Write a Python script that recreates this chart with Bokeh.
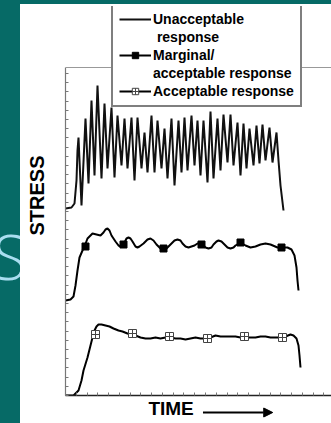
import numpy as np
from bokeh.plotting import figure
from bokeh.models import (Legend, LegendItem, Label, Arrow, NormalHead,
                          LinearAxis, FixedTicker, Div, Span)
from bokeh.layouts import row, column
from bokeh.embed import file_html
from bokeh.resources import INLINE

# ---- data (arbitrary chart units: time, stress) ----
unacc_t = [0, 6, 9, 11, 12, 13, 16, 20, 23, 26, 29, 32, 36, 39, 42, 46, 49, 52, 56, 59, 62,
           66, 69, 72, 76, 79, 82, 86, 89, 92, 96, 99, 102, 106, 109, 113, 116, 119, 122,
           126, 129, 132, 135, 138, 142, 145, 148, 152, 155, 158, 162, 165, 168, 172, 175,
           178, 181, 184, 188, 191, 194, 197, 200, 204, 207, 211, 213, 215, 218]
unacc_s = [187, 188, 192, 215, 245, 258, 190, 277, 212, 295, 220, 310, 217, 292, 227, 288, 218,
           280, 230, 277, 227, 278, 215, 278, 227, 263, 223, 280, 223, 275, 227, 267, 217, 277,
           210, 275, 223, 278, 225, 280, 230, 275, 220, 275, 213, 284, 217, 277, 225, 281, 233,
           281, 230, 273, 220, 272, 227, 267, 230, 270, 232, 271, 235, 268, 233, 263, 235, 210, 185]

marg_t = [0, 5, 8, 10, 12, 14, 17, 19, 22, 27, 31, 35, 38, 40, 42, 44, 46, 50, 53, 55, 57, 59,
          61, 63, 65, 67, 70, 72, 74, 78, 82, 85, 88, 91, 95, 98, 101, 105, 109, 112, 115, 117,
          120, 123, 126, 129, 132, 135, 138, 140, 143, 146, 148, 151, 153, 156, 159, 162, 165,
          168, 170, 175, 180, 185, 190, 195, 200, 205, 212, 217, 222, 226, 229, 231, 232, 233]
marg_s = [95, 96, 99, 110, 125, 138, 145, 149, 157, 162, 161, 160, 163, 166, 167, 165, 160, 154,
          150, 149, 150, 153, 157, 158, 157, 154, 149, 148, 149, 152, 156, 157, 155, 151, 147,
          146, 147, 151, 155, 156, 155, 152, 149, 148, 149, 150, 152, 152, 150, 148, 147, 148,
          151, 154, 155, 154, 151, 148, 147, 148, 150, 153, 150, 148, 149, 151, 152, 151, 148,
          148, 148, 146, 140, 128, 115, 105]
marg_mark_t = [20, 58, 98, 136, 175, 216]
marg_mark_s = [149, 151, 147, 151, 153, 148]

acc_t = [0, 8, 10, 13, 16, 18, 22, 25, 27, 29, 31, 33, 36, 40, 44, 48, 53, 57, 62, 66, 70, 75,
         80, 85, 90, 95, 100, 105, 110, 115, 120, 125, 130, 135, 140, 145, 150, 155, 160, 165,
         170, 175, 180, 185, 190, 195, 200, 205, 210, 215, 220, 225, 228, 231, 233, 234, 235]
acc_s = [0, 0, 2, 5, 15, 25, 38, 50, 58, 65, 69, 71, 71, 70, 69, 67, 65, 64, 62, 61, 60, 58, 57,
         57, 58, 57, 58, 58, 57, 57, 56, 57, 58, 57, 57, 58, 60, 59, 59, 59, 59, 58, 58, 58, 58,
         59, 59, 58, 58, 58, 59, 61, 60, 57, 50, 40, 28]
acc_mark_t = [30, 67, 104, 142, 179, 217]
acc_mark_s = [61, 62, 59, 57, 59, 58]

# legend text, one entry per printed line
legend_lines = ["Unacceptable", " response", "Marginal/", "acceptable response",
                "Acceptable response"]
y_title = "STRESS"
x_title = "TIME"

Y_MAX = 328      # top of the axes box (stress units)
X_MAX = 266

TEAL = "#066a66"
FONT = "Liberation Sans"


def bare_fig(w, h, xr, yr):
    f = figure(width=w, height=h, x_range=xr, y_range=yr, output_backend="svg",
               toolbar_location=None, x_axis_location=None, y_axis_location=None,
               min_border=0)
    f.outline_line_color = None
    f.xgrid.visible = False
    f.ygrid.visible = False
    f.background_fill_color = "white"
    f.border_fill_color = "white"
    return f


# ---- main chart (frame reaches up to the legend's top edge) ----
p = figure(width=267, height=393, x_range=(0, X_MAX), y_range=(0, 389),
           output_backend="svg", toolbar_location=None,
           x_axis_location=None, y_axis_location=None,
           min_border_left=1, min_border_right=0, min_border_top=2, min_border_bottom=2)
p.outline_line_color = None
p.xgrid.visible = False
p.ygrid.visible = False
p.background_fill_color = "white"
p.border_fill_color = "white"

xt = FixedTicker(ticks=[], minor_ticks=list(np.arange(0, X_MAX, 10.77)))
yt = FixedTicker(ticks=[], minor_ticks=list(np.arange(0, Y_MAX, 9.2)))


def mk_axis(ticker, color, width, bounds):
    ax = LinearAxis(ticker=ticker, bounds=bounds)
    ax.axis_line_color = color
    ax.axis_line_width = width
    ax.major_tick_in = 0
    ax.major_tick_out = 0
    ax.minor_tick_in = 3
    ax.minor_tick_out = 0
    ax.minor_tick_line_color = "#777777"
    ax.major_label_standoff = 0
    ax.major_label_text_color = None
    return ax


p.add_layout(mk_axis(yt, "#777777", 1.2, (0, Y_MAX)), "left")
p.add_layout(mk_axis(xt, "#222222", 1.5, (0, X_MAX)), "below")
p.add_layout(Span(location=Y_MAX, dimension="width", line_color="#999999", line_width=1))

u = p.line(unacc_t, unacc_s, line_color="#111111", line_width=2)
m_line = p.line(marg_t, marg_s, line_color="black", line_width=2)
m_pts = p.scatter(marg_mark_t, marg_mark_s, marker="square", size=7,
                  fill_color="black", line_color="black")
a_line = p.line(acc_t, acc_s, line_color="black", line_width=2)
a_pts = p.scatter(acc_mark_t, acc_mark_s, marker="square_cross", size=8,
                  fill_color="white", line_color="#444444", line_width=1)
blank = p.line([], [], line_alpha=0)   # carries the continuation lines of the legend

legend = Legend(items=[
    LegendItem(label=legend_lines[0], renderers=[u]),
    LegendItem(label=legend_lines[1], renderers=[blank]),
    LegendItem(label=legend_lines[2], renderers=[m_line, m_pts]),
    LegendItem(label=legend_lines[3], renderers=[blank]),
    LegendItem(label=legend_lines[4], renderers=[a_line, a_pts]),
], location=(46, 288))
legend.background_fill_color = "white"
legend.background_fill_alpha = 1
legend.border_line_color = "black"
legend.border_line_width = 2
legend.padding = 6
legend.spacing = 2
legend.margin = 0
legend.label_standoff = 2
legend.glyph_width = 32
legend.glyph_height = 16
legend.label_height = 16
legend.label_text_font = FONT
legend.label_text_font_style = "bold"
legend.label_text_font_size = "14px"
legend.label_text_color = "black"
p.add_layout(legend)

# ---- left strip with the y title ----
lf = bare_fig(44, 419, (0, 44), (0, 419))
lf.add_layout(Label(x=16, y=228, text=y_title, angle=np.pi / 2, text_align="center",
                    text_baseline="middle", text_font=FONT, text_font_style="bold",
                    text_font_size="20px", text_color="black"))

# ---- bottom strip with the x title and arrow ----
bf = bare_fig(267, 26, (0, 267), (0, 26))
bf.add_layout(Label(x=106, y=15, text=x_title, text_align="center",
                    text_baseline="middle", text_font=FONT, text_font_style="bold",
                    text_font_size="19px", text_color="black"))
bf.add_layout(Arrow(x_start=138, y_start=11, x_end=208, y_end=11, line_width=2,
                    line_color="black",
                    end=NormalHead(size=9, fill_color="black", line_color="black")))

side = Div(text='<span style="display:block;margin-top:221px;margin-left:-7px;'
                'font-family:\'Open Sans\';font-weight:300;font-size:62px;line-height:1;'
                'color:#a9def0;">S</span>',
           width=20, height=419, margin=0,
           styles={"background-color": TEAL, "overflow": "hidden"})
top = Div(text="", width=331, height=4, margin=0, styles={"background-color": TEAL})

layout = column(top, row(side, lf, column(p, bf, spacing=0), spacing=0), spacing=0)

html = file_html(layout, INLINE)
style = "<style>html,body{margin:0;padding:0;background-color:white;overflow:hidden;}</style>"
html = html.replace("</head>", style + "</head>", 1)
open("out.html", "w").write(html)
